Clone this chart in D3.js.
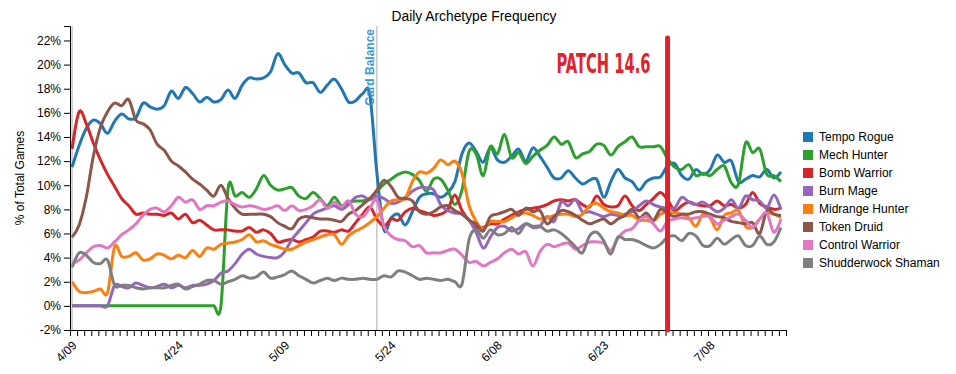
<!DOCTYPE html>
<html>
<head>
<meta charset="utf-8">
<script src="https://cdn.jsdelivr.net/npm/d3@7"></script>
<style>
  body { margin: 0; background: #fff; }
  svg { display: block; font-family: "Liberation Sans", Arial, sans-serif; }
</style>
</head>
<body>
<svg id="chart" width="956" height="374"></svg>
<script>
// ---------------- DATA ----------------
const startDay = [2019, 3, 9];          // 2019-04-09, first day of data
const endAxisDay = [2019, 6, 19];       // axis end
const seriesNames = ["Tempo Rogue", "Mech Hunter", "Bomb Warrior", "Burn Mage",
  "Midrange Hunter", "Token Druid", "Control Warrior", "Shudderwock Shaman"];
const seriesColors = ["#1f77b4", "#2ca02c", "#d62728", "#9467bd",
  "#ff7f0e", "#8c564b", "#e377c2", "#7f7f7f"];

const tempoRogue = [11.5,13.3,14.7,15.4,15.1,14.3,15.3,15.9,15.5,15.6,
16.8,16.5,16.3,16.6,17.8,17.2,18.1,17.6,16.9,17.3,
16.9,17.1,17.9,17.2,18.3,18.9,18.8,18.9,19.4,20.9,
20.0,19.3,19.3,18.5,18.5,17.7,18.3,18.8,18.0,16.9,
17.0,17.6,17.5,11.0,6.3,7.3,7.6,6.7,7.8,9.0,
9.3,9.3,9.0,9.4,10.3,12.6,13.5,12.8,11.9,13.1,
12.1,11.9,12.4,13.0,12.0,13.1,12.4,11.5,10.6,10.6,
11.2,10.6,10.1,10.4,10.5,9.0,10.3,11.3,10.6,10.3,
9.6,10.3,10.6,10.7,11.6,11.8,10.8,10.5,11.3,10.9,
11.3,12.5,11.9,12.0,10.3,10.5,10.8,10.7,11.3,10.6,
11.1];

const mechHunter = [0,0,0,0,0,0,0,0,0,0,
0,0,0,0,0,0,0,0,0,0,
0,0,9.7,9.1,9.4,9.0,9.7,10.8,10.0,9.6,
9.7,9.8,9.1,8.9,9.4,8.9,8.3,9.0,8.3,8.6,
8.7,8.7,8.9,9.5,10.1,10.5,10.9,11.1,10.9,10.4,
9.5,10.5,10.5,9.6,8.4,9.6,12.8,12.6,10.8,13.2,
12.6,14.2,12.3,12.7,11.8,12.4,12.9,13.3,14.0,13.4,
13.6,12.3,12.6,12.8,13.4,13.3,12.5,13.2,13.6,14.0,
13.2,13.2,13.2,13.2,12.2,11.5,11.3,11.7,10.8,11.0,
10.8,11.3,11.6,10.2,10.1,13.5,12.7,13.0,10.9,10.8,
10.3];

const bombWarrior = [13.0,16.1,15.1,13.5,12.1,10.9,9.9,8.9,8.3,7.6,
7.7,7.6,7.6,7.5,7.7,7.2,7.6,6.9,7.1,6.7,
6.3,6.3,6.3,6.2,6.2,6.5,6.1,6.3,6.0,5.3,
5.4,5.5,5.3,5.5,5.7,6.2,6.2,6.1,6.3,6.2,
6.9,7.6,8.2,7.2,6.6,7.2,7.1,7.8,8.1,7.9,
7.7,7.5,7.6,8.0,9.2,7.9,7.1,6.5,6.5,6.8,
6.8,7.2,7.5,7.8,8.0,8.1,8.2,8.4,8.7,8.8,
8.7,8.8,8.4,8.2,9.1,8.4,8.2,8.3,9.1,8.3,
7.9,8.4,8.9,9.4,8.8,7.9,8.3,8.6,8.4,8.3,
8.3,8.7,8.3,8.4,8.1,8.4,9.4,8.5,8.2,8.0,
8.1];

const burnMage = [0,0,0,0,0,0,1.7,1.6,1.5,1.9,
1.7,1.5,1.6,1.8,1.5,1.7,1.5,1.7,1.7,1.8,
2.1,2.7,2.9,3.5,4.3,4.7,4.3,4.1,4.0,4.0,
4.5,5.5,6.2,6.9,7.6,7.9,8.1,8.3,8.0,8.4,
9.0,9.1,8.8,9.1,8.9,8.5,8.6,9.0,9.5,9.8,
9.8,9.6,8.4,7.9,7.7,7.6,7.1,6.1,4.8,5.7,
6.5,6.6,6.2,6.4,6.8,6.5,6.6,7.4,7.0,8.6,
8.3,8.8,7.8,7.8,7.6,7.4,7.6,7.5,7.6,7.8,
8.3,8.7,8.4,8.2,8.1,8.1,9.0,8.6,8.4,8.6,
8.2,7.8,8.1,8.8,8.1,9.1,8.8,8.7,8.1,9.2,
8.0];

const midrangeHunter = [2.0,1.2,1.1,1.2,1.4,1.1,4.9,4.1,4.1,4.4,
3.8,3.9,4.3,4.2,3.9,4.2,4.0,4.6,4.1,4.8,
4.7,5.1,5.2,5.3,5.5,5.9,5.3,5.4,5.1,4.9,
4.7,4.7,5.0,5.3,5.5,5.7,5.9,5.9,5.1,5.8,
6.2,6.5,6.9,7.4,8.1,8.7,8.8,8.9,10.3,11.1,
11.0,11.4,12.1,11.7,12.0,11.0,8.3,7.0,6.4,7.0,
7.0,7.0,7.3,7.6,7.7,7.5,7.2,7.3,7.5,7.6,
7.6,7.4,7.6,8.3,8.5,8.1,7.8,7.7,7.5,7.5,
7.1,7.1,7.0,7.6,7.8,7.7,7.6,7.3,6.6,7.6,
7.3,6.3,7.5,7.7,7.9,6.6,6.5,7.2,7.7,7.6,
7.3];

const tokenDruid = [5.7,6.7,9.0,12.4,14.8,16.1,16.8,16.6,17.1,15.4,
15.1,14.6,13.4,12.9,12.0,11.6,11.1,10.5,10.1,9.6,
9.1,10.0,8.9,8.1,7.6,7.6,7.6,7.6,7.4,6.9,
6.6,6.4,7.2,7.4,7.3,7.2,7.2,7.1,7.0,7.6,
7.9,8.4,8.9,9.6,10.4,9.9,9.0,8.9,8.7,7.8,
7.6,7.8,8.2,8.3,7.9,7.6,7.1,6.8,6.2,7.4,
7.6,7.8,8.0,7.5,8.1,7.8,7.9,6.8,7.4,7.9,
7.8,7.5,7.1,6.8,7.0,7.2,6.8,7.2,7.5,8.0,
7.3,7.7,7.1,8.0,7.7,7.4,7.6,7.6,7.8,7.8,
7.6,7.4,7.3,7.0,6.9,6.8,6.9,6.0,7.9,7.6,
7.5];

const controlWarrior = [3.5,3.8,4.4,4.9,5.0,4.8,5.3,5.9,6.3,6.8,
7.5,8.0,8.1,7.8,8.3,9.0,8.6,8.8,8.0,8.3,
8.3,8.6,8.7,8.4,8.2,8.3,8.2,8.0,8.1,8.3,
7.9,8.3,7.9,8.0,8.3,8.8,8.1,8.6,8.2,8.7,
7.6,7.4,8.1,8.8,6.6,5.8,5.5,5.4,4.9,5.0,
4.4,4.4,4.4,4.6,4.7,4.2,3.6,3.7,3.3,3.6,
3.9,4.4,4.7,4.3,4.5,3.3,4.5,5.1,4.9,5.1,
5.2,4.7,5.0,5.3,5.3,5.2,4.6,5.6,6.2,6.4,
7.1,7.4,6.8,6.2,7.0,7.2,7.3,7.2,7.3,7.4,
7.4,6.8,7.1,7.4,7.6,7.1,6.5,7.2,7.7,6.1,
7.2];

const shudderwockShaman = [3.2,4.4,4.2,3.6,3.5,3.8,1.7,1.7,1.7,1.5,
1.4,1.5,1.5,1.5,1.7,1.8,1.4,1.6,1.8,2.1,
2.1,1.8,2.0,2.2,2.5,2.3,2.4,2.8,2.3,2.4,
2.6,2.9,2.5,2.2,1.9,2.1,2.3,2.1,2.3,2.2,
2.2,2.3,2.2,2.2,2.5,2.4,2.9,2.8,2.5,2.2,
2.3,2.2,2.1,2.2,2.0,1.8,5.5,6.3,5.6,6.3,
5.9,6.0,6.5,6.0,6.8,6.6,6.6,6.2,6.3,6.0,
5.5,4.9,4.4,5.8,6.1,5.4,4.3,5.7,5.5,5.5,
5.3,5.0,4.8,5.1,5.7,5.8,5.4,6.0,5.8,5.0,
5.0,5.6,5.1,5.5,5.8,5.0,5.0,5.8,5.1,5.3,
6.5];

const seriesValues = [tempoRogue, mechHunter, bombWarrior, burnMage,
  midrangeHunter, tokenDruid, controlWarrior, shudderwockShaman];

const yTickValues = [-2,0,2,4,6,8,10,12,14,16,18,20,22];
const xTickLabels = ["4/09","4/24","5/09","5/24","6/08","6/23","7/08"];
const yDomain = [-2, 23.2];

// annotations: [label, dayOffset from start]
const cardBalanceDay = 43;   // 5/22
const patchDay = 84;         // 7/02
const patchLabel = "PATCH 14.6";
const cardBalanceLabel = "Card Balance";
const chartTitle = "Daily Archetype Frequency";
const yAxisTitle = "% of Total Games";

// ---------------- CHART ----------------
const svg = d3.select("#chart");
const dataHour = 7; // points recorded at 07:00 local each day
const day0 = new Date(startDay[0], startDay[1], startDay[2]);
const dates = tempoRogue.map((_, i) => d3.timeHour.offset(d3.timeDay.offset(day0, i), dataHour));

const x = d3.scaleTime()
  .domain([day0, new Date(endAxisDay[0], endAxisDay[1], endAxisDay[2])])
  .range([70, 786]);
const y = d3.scaleLinear().domain(yDomain).range([330, 26]);

// vertical grey reference lines
const refDates = [dates[0], dates[cardBalanceDay]];
svg.selectAll("line.ref").data(refDates).enter().append("line")
  .attr("class", "ref")
  .attr("x1", d => x(d)).attr("x2", d => x(d))
  .attr("y1", y.range()[1]).attr("y2", y.range()[0])
  .attr("stroke", "#aaa").attr("stroke-width", 1);

// axes
const allDays = d3.timeDay.range(day0, d3.timeDay.offset(x.domain()[1], 1));
const fmt = d3.timeFormat("%-m/%d");
const xAxis = d3.axisBottom(x).tickValues(allDays)
  .tickFormat(d => xTickLabels.includes(fmt(d)) ? fmt(d) : "");
const gx = svg.append("g").attr("transform", "translate(0,330)").call(xAxis);
gx.selectAll("text")
  .attr("y", 0).attr("dy", null).attr("x", 0)
  .attr("transform", "translate(7,16) rotate(-45)")
  .style("text-anchor", "end");

const yAxis = d3.axisLeft(y).tickValues(yTickValues).tickFormat(d => d + "%");
const gy = svg.append("g").attr("transform", "translate(70,0)").call(yAxis);

[gx, gy].forEach(g => {
  g.attr("font-size", 12).attr("font-family", "Liberation Sans, Arial, sans-serif");
  g.selectAll("text").attr("fill", "#000");
  g.selectAll("line, path").attr("stroke", "#000");
});

// lines
const line = d3.line()
  .x((d, i) => x(dates[i]))
  .y(d => y(d))
  .curve(d3.curveCardinal);

svg.append("g").selectAll("path").data(seriesValues).enter().append("path")
  .attr("d", d => line(d))
  .attr("fill", "none")
  .attr("stroke", (d, i) => seriesColors[i])
  .attr("stroke-width", 3)
  .attr("stroke-linejoin", "round");

// Card balance label
svg.append("text")
  .attr("transform", `translate(${x(dates[cardBalanceDay]) - 3},29) rotate(-90)`)
  .attr("text-anchor", "end")
  .attr("font-size", 12).attr("font-weight", "bold")
  .attr("fill", "#3a98d4")
  .text(cardBalanceLabel);

// Patch line
const px = x(dates[patchDay]);
svg.append("line")
  .attr("x1", px).attr("x2", px)
  .attr("y1", 38).attr("y2", 330)
  .attr("stroke", "#e3202a").attr("stroke-width", 5)
  .attr("stroke-linecap", "round");
svg.append("text")
  .attr("x", px - 111).attr("y", 73)
  .attr("font-family", "'Liberation Sans Narrow', 'DejaVu Sans Condensed', 'Liberation Sans', sans-serif")
  .attr("font-size", 26).attr("font-weight", "bold")
  .attr("fill", "#e0232b")
  .attr("textLength", 94).attr("lengthAdjust", "spacingAndGlyphs")
  .text(patchLabel);

// Title
svg.append("text")
  .attr("x", 474).attr("y", 21)
  .attr("text-anchor", "middle")
  .attr("font-size", 13.8)
  .text(chartTitle);

// Y axis title
svg.append("text")
  .attr("transform", "translate(24,178) rotate(-90)")
  .attr("text-anchor", "middle")
  .attr("font-size", 12)
  .text(yAxisTitle);

// Legend
const legend = svg.append("g").attr("transform", "translate(803,132)");
const items = legend.selectAll("g").data(seriesNames).enter().append("g")
  .attr("transform", (d, i) => `translate(0,${i * 18})`);
items.append("rect").attr("width", 10).attr("height", 10)
  .attr("fill", (d, i) => seriesColors[i]);
items.append("text").attr("x", 16).attr("y", 5).attr("dy", "0.35em")
  .attr("font-size", 12).text(d => d);
</script>
</body>
</html>
